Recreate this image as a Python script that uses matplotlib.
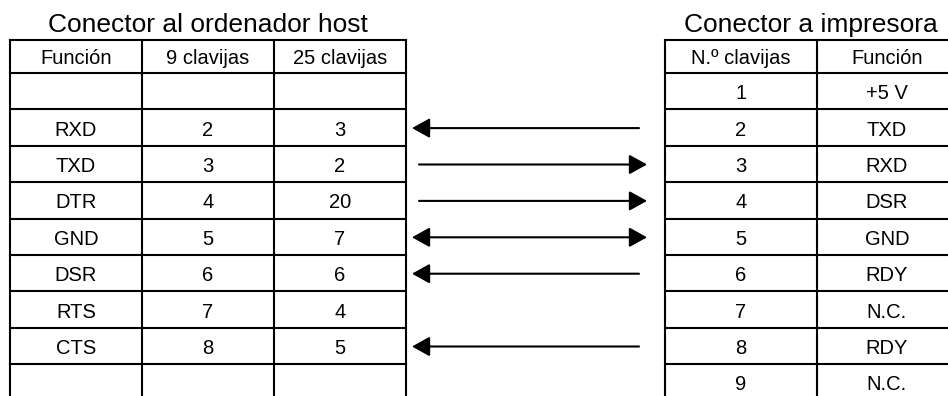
import matplotlib.pyplot as plt

# host side connector (9 pin / 25 pin)
host_title = "Conector al ordenador host"
host_headers = ["Función", "9 clavijas", "25 clavijas"]
host_func = ["", "RXD", "TXD", "DTR", "GND", "DSR", "RTS", "CTS", ""]
host_pin9 = ["", "2", "3", "4", "5", "6", "7", "8", ""]
host_pin25 = ["", "3", "2", "20", "7", "6", "4", "5", ""]

# printer side connector
prn_title = "Conector a impresora"
prn_headers = ["N.º clavijas", "Función"]
prn_pin = ["1", "2", "3", "4", "5", "6", "7", "8", "9"]
prn_func = ["+5 V", "TXD", "RXD", "DSR", "GND", "RDY", "N.C.", "RDY", "N.C."]

# signal direction per row: "<" to host, ">" to printer, "<>" both, "" none
direction = ["", "<", ">", ">", "<>", "<", "", "<", ""]

# layout in pixels
host_cols = [10, 142, 274, 406]
prn_cols = [665, 817, 957]
row_lines = [40, 73] + [73 + 36.4 * i for i in range(1, 10)]
arrow_left, arrow_right = 412, 647
arrow_gap = 7
font = "Liberation Sans"

fig = plt.figure(figsize=(9.48, 3.96), dpi=100)
ax = fig.add_axes([0, 0, 1, 1])
ax.set_xlim(0, 948)
ax.set_ylim(396, 0)
ax.axis("off")

def draw_table(cols, headers, columns, title):
    lw = 1.5
    for x in cols:
        ax.plot([x, x], [row_lines[0], row_lines[-1]], color="black", lw=lw, solid_capstyle="projecting")
    for y in row_lines:
        ax.plot([cols[0], cols[-1]], [y, y], color="black", lw=lw, solid_capstyle="projecting")
    ax.text((cols[0] + cols[-1]) / 2, 32, title, ha="center", va="baseline", fontsize=19, family=font)
    for j, h in enumerate(headers):
        xc = (cols[j] + cols[j + 1]) / 2
        ax.text(xc, (row_lines[0] + row_lines[1]) / 2 + 8, h, ha="center", va="baseline", fontsize=14.5, family=font)
        for i, val in enumerate(columns[j]):
            yc = (row_lines[i + 1] + row_lines[i + 2]) / 2 + 8
            ax.text(xc, yc, val, ha="center", va="baseline", fontsize=14.5, family=font)

draw_table(host_cols, host_headers, [host_func, host_pin9, host_pin25], host_title)
draw_table(prn_cols, prn_headers, [prn_pin, prn_func], prn_title)

head = "head_length=0.9,head_width=0.5"
for i, d in enumerate(direction):
    if not d:
        continue
    y = (row_lines[i + 1] + row_lines[i + 2]) / 2 + 0.5
    if d == "<":
        start, end, style = arrow_right - 8, arrow_left, "-|>," + head
    elif d == ">":
        start, end, style = arrow_left + arrow_gap, arrow_right, "-|>," + head
    else:
        start, end, style = arrow_left, arrow_right, "<|-|>," + head
    ax.annotate("", xy=(end, y), xytext=(start, y),
                arrowprops=dict(arrowstyle=style, mutation_scale=12, lw=1.5,
                                color="black", shrinkA=0, shrinkB=0))

fig.savefig("out.png", dpi=100)
